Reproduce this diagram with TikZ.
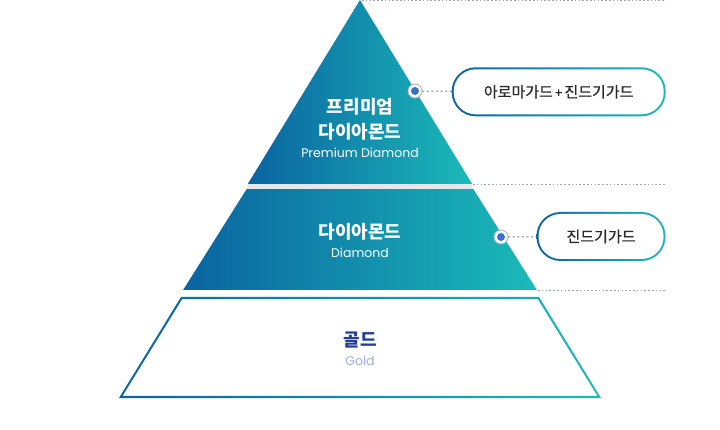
\documentclass[tikz,border=0pt]{standalone}
\usepackage{fontspec}
\newfontfamily\kr{Noto Sans CJK KR}
\newfontfamily\krm{Noto Sans CJK KR}[FakeBold=0.5]
\newfontfamily\lat{Poppins}
\definecolor{gblue}{HTML}{0A63A0}
\definecolor{gteal}{HTML}{1BBAB9}
\definecolor{dotgray}{HTML}{9AA6B8}
\definecolor{dotblue}{HTML}{3B6FCF}
\definecolor{goldtxt}{HTML}{213F9A}
\definecolor{goldsub}{HTML}{9EAED6}
\definecolor{band}{HTML}{E4E7EE}
\definecolor{pilltxt}{HTML}{2A2A2A}
\tikzset{
  grad/.style={left color=gblue,right color=gteal},
  hline/.style={draw=dotgray,line width=0.8pt,dash pattern=on 1.6pt off 2.2pt},
  dotline/.style={draw=dotgray!80!black,line width=1pt,dash pattern=on 1.4pt off 3.2pt,line cap=round},
  pillouter/.style={grad,rounded corners=24pt,inner sep=0pt},
  pillinner/.style={fill=white,rounded corners=22pt,inner sep=0pt,text=pilltxt,font=\krm\fontsize{15}{17}\selectfont},
  bullet/.style={circle,fill=white,draw=dotgray!80,line width=0.9pt,minimum size=14pt,inner sep=0pt},
  krw/.style={text=white,font=\kr\bfseries\fontsize{18}{20}\selectfont,inner sep=0pt},
  latw/.style={text=white,font=\lat\fontsize{12.5}{14}\selectfont,inner sep=0pt},
}
\begin{document}
\begin{tikzpicture}[x=1pt,y=-1pt]
\useasboundingbox[fill=white] (0,0) rectangle (720,430);
% dotted guide lines
\coordinate (l0a) at (362,0.6); \coordinate (l0b) at (666,0.6);
\coordinate (l1a) at (473,184); \coordinate (l1b) at (666,184);
\coordinate (l2a) at (538,290.5); \coordinate (l2b) at (666,290.5);
\draw[hline] (l0a) -- (l0b);
\draw[hline] (l1a) -- (l1b);
\draw[hline] (l2a) -- (l2b);
% level 3 (gold): gradient outline ring
\path[grad,even odd rule] (181,297) -- (539,297) -- (601,398) -- (119,398) -- cycle
  (182.1,299.2) -- (537.9,299.2) -- (597.4,395.8) -- (122.6,395.8) -- cycle;
% level 2
\path[grad] (246.7,189) -- (473.3,189) -- (536.9,290) -- (183.1,290) -- cycle;
% band between level 1 and level 2
\fill[band] (247.8,184) -- (472.2,184) -- (473.3,189) -- (246.7,189) -- cycle;
% level 1
\path[grad] (360,0) -- (472.2,184) -- (247.8,184) -- cycle;
% texts
\node[krw] (t1a) at (360,106.5) {프리미엄};
\node[krw] (t1b) at (360,131.5) {다이아몬드};
\node[latw] (t1c) at (360,153) {Premium Diamond};
\node[krw] (t2a) at (360,231.5) {다이아몬드};
\node[latw] (t2b) at (360,253) {Diamond};
\node[krw,text=goldtxt] (t3a) at (360,340.5) {골드};
\node[latw,text=goldsub] (t3b) at (360,361) {Gold};
% pills
\node[pillouter,minimum width=214pt,minimum height=49pt] (p1) at (558.7,91.8) {};
\node[pillinner,minimum width=210pt,minimum height=45pt] (p1i) at (p1) {아로마가드{\fontsize{13}{14}\selectfont\,+\,}진드기가드};
\node[pillouter,minimum width=129pt,minimum height=49pt] (p2) at (601,236.5) {};
\node[pillinner,minimum width=125pt,minimum height=45pt] (p2i) at (p2) {진드기가드};
% bullets
\node[bullet] (d1) at (415,91) {};
\fill[dotblue] (d1) circle (4pt);
\node[bullet] (d2) at (501,237) {};
\fill[dotblue] (d2) circle (4pt);
\draw[dotline] (d1) -- (p1);
\draw[dotline] (d2) -- (p2);
\end{tikzpicture}
\end{document}
